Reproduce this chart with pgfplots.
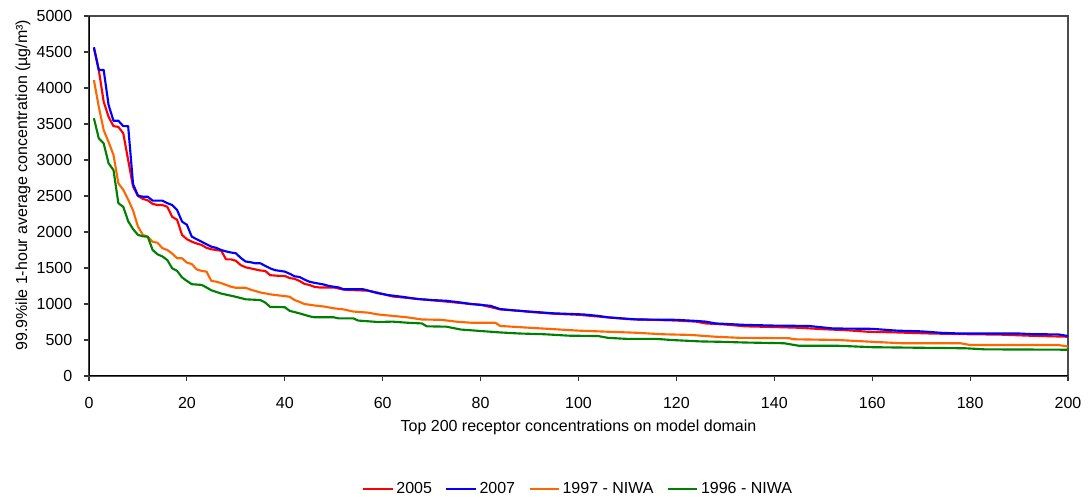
\documentclass[border=0pt]{standalone}
\usepackage{pgfplots}
\pgfplotsset{compat=1.18}
\usepackage{fontspec}
\setmainfont{Liberation Sans}
\definecolor{cRed}{RGB}{255,0,0}
\definecolor{cBlue}{RGB}{0,0,255}
\definecolor{cOrange}{RGB}{255,102,0}
\definecolor{cGreen}{RGB}{0,128,0}
\begin{document}
\begin{tikzpicture}
\path (0,0) rectangle (818.25pt,375pt);
\begin{axis}[
  at={(66.75pt,93pt)}, anchor=south west,
  scale only axis, width=734.25pt, height=270pt,
  xmin=0, xmax=200, ymin=0, ymax=5000,
  xtick={0,20,...,200}, ytick={0,500,...,5000},
  tick align=outside, major tick length=4pt,
  xtick pos=bottom, ytick pos=left,
  axis line style={draw=black!70, line width=0.8pt},
  tick style={black!80, line width=0.8pt},
  /pgf/number format/assume math mode=true,
  /pgf/number format/1000 sep={},
  tick label style={font=\fontsize{12}{14}\selectfont},
  yticklabel style={xshift=-5pt},
  xticklabel style={yshift=-8.5pt},
  xlabel={Top 200 receptor concentrations on model domain},
  ylabel={99.9\%ile 1-hour average concentration (µg/m³)},
  label style={font=\fontsize{12}{14}\selectfont},
  xlabel style={at={(rel axis cs:0.5,0)}, anchor=center, yshift=-38.6pt},
  ylabel style={at={(rel axis cs:0,0.53)}, anchor=center, yshift=49.5pt},
  legend style={at={(0.5,-0.314)}, anchor=center, draw=none, legend columns=-1,
    font=\fontsize{12}{14}\selectfont,
    /tikz/every even column/.append style={column sep=8pt}},
  legend image code/.code={\draw[#1, line width=1.6pt] (0pt,0pt) -- (22pt,0pt);},
  every axis plot/.append style={line width=1.6pt, line join=round},
]
\addplot[cRed] coordinates {
(1,4560)(2,4250)(3,3810)(4,3600)(5,3470)(6,3460)(7,3370)(8,3000)(9,2630)(10,2500)
(11,2460)(12,2440)(13,2390)(14,2375)(15,2375)(16,2350)(17,2210)(18,2170)(19,1960)(20,1900)
(21,1865)(22,1840)(23,1820)(24,1780)(25,1760)(26,1750)(27,1740)(28,1620)(29,1620)(30,1600)
(31,1540)(32,1510)(33,1495)(34,1480)(35,1465)(36,1460)(37,1400)(38,1395)(39,1390)(40,1390)
(41,1360)(42,1350)(43,1320)(44,1280)(45,1265)(46,1240)(47,1230)(50,1230)(52,1200)(53,1195)
(57,1185)(59,1157)(62,1105)(65,1085)(68,1065)(72,1040)(75,1020)(78,1000)(80,990)(84,925)
(88,905)(90,890)(95,865)(100,850)(105,820)(110,790)(115,780)(120,770)(124,755)(126,730)
(130,715)(134,690)(140,680)(145,670)(150,650)(155,635)(159,615)(165,605)(172,590)(180,580)
(186,575)(192,560)(200,545)
};
\addlegendentry{2005}
\addplot[cBlue] coordinates {
(1,4565)(2,4250)(3,4250)(4,3765)(5,3545)(6,3545)(7,3470)(8,3470)(9,2665)(10,2505)
(11,2490)(12,2490)(13,2435)(14,2435)(15,2435)(16,2400)(17,2375)(18,2305)(19,2145)(20,2100)
(21,1935)(22,1900)(23,1865)(24,1830)(25,1795)(26,1780)(27,1750)(28,1730)(29,1715)(30,1705)
(31,1640)(32,1590)(33,1580)(34,1565)(35,1565)(36,1530)(37,1495)(38,1470)(39,1460)(40,1450)
(41,1420)(42,1385)(43,1375)(44,1340)(45,1310)(46,1295)(48,1270)(49,1250)(51,1230)(52,1205)
(56,1205)(59,1150)(61,1125)(64,1100)(67,1070)(70,1055)(73,1045)(76,1020)(78,1000)(82,975)
(84,930)(87,910)(90,895)(95,870)(101,855)(104,835)(106,815)(110,795)(112,785)(120,780)
(124,765)(126,755)(128,730)(131,720)(134,710)(140,700)(147,695)(152,660)(160,655)(165,630)
(170,620)(174,600)(178,590)(190,590)(193,580)(198,578)(200,555)
};
\addlegendentry{2007}
\addplot[cOrange] coordinates {
(1,4110)(2,3740)(3,3415)(4,3250)(5,3070)(6,2675)(7,2585)(8,2450)(9,2300)(10,2075)
(11,1960)(12,1935)(13,1865)(14,1850)(15,1775)(16,1750)(17,1700)(18,1635)(19,1635)(20,1575)
(21,1555)(22,1480)(23,1460)(24,1450)(25,1320)(26,1310)(27,1290)(28,1265)(29,1240)(30,1225)
(32,1225)(33,1200)(35,1160)(37,1135)(38,1125)(40,1110)(41,1100)(42,1055)(43,1030)(44,1000)
(46,980)(48,965)(50,940)(52,925)(54,895)(57,880)(59,855)(62,835)(65,815)(68,785)
(72,780)(75,755)(78,740)(83,740)(84,695)(90,670)(95,650)(100,630)(106,615)(112,600)
(117,580)(123,570)(128,545)(133,530)(143,525)(144,510)(153,500)(160,475)(166,455)(178,455)
(180,430)(198,430)(200,410)
};
\addlegendentry{1997 - NIWA}
\addplot[cGreen] coordinates {
(1,3580)(2,3300)(3,3230)(4,2955)(5,2860)(6,2400)(7,2350)(8,2150)(9,2040)(10,1960)
(11,1940)(12,1935)(13,1750)(14,1690)(15,1660)(16,1610)(17,1495)(18,1460)(19,1370)(20,1320)
(21,1275)(23,1265)(24,1230)(25,1190)(27,1145)(30,1100)(32,1065)(35,1055)(36,1020)(37,960)
(40,955)(41,905)(43,870)(45,830)(46,815)(50,815)(51,800)(54,800)(55,770)(59,750)
(62,755)(65,740)(68,730)(69,690)(73,685)(76,645)(80,625)(84,605)(88,590)(93,580)
(98,560)(104,555)(106,530)(110,515)(116,515)(119,500)(125,480)(129,475)(134,465)(142,455)
(145,420)(153,420)(160,400)(166,395)(179,385)(183,370)(200,365)
};
\addlegendentry{1996 - NIWA}
\draw[black, line width=0.8pt] (rel axis cs:0,1) -- (rel axis cs:0,0) -- (rel axis cs:1,0);
\end{axis}
\end{tikzpicture}
\end{document}
